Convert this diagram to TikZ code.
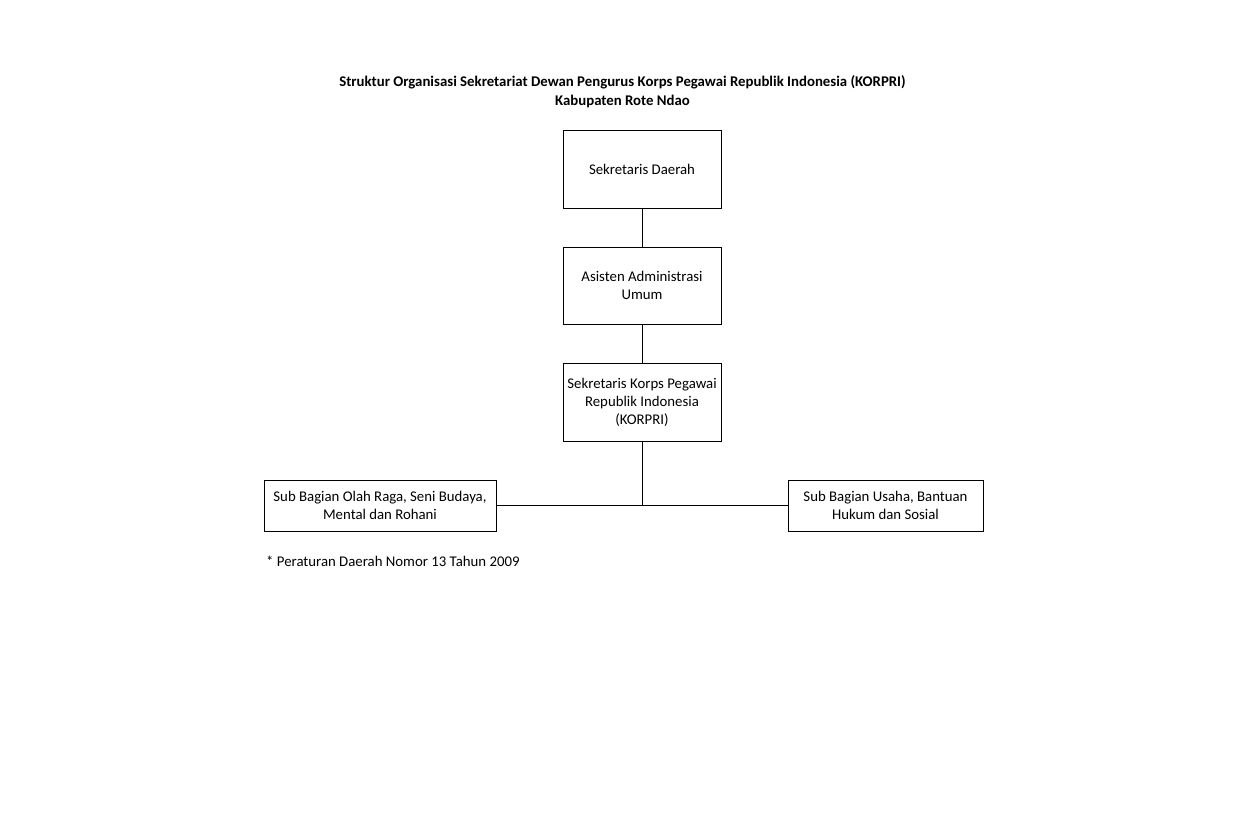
\documentclass[tikz,border=0pt]{standalone}
\usepackage{fontspec}
\setmainfont{Carlito}
\begin{document}
\begin{tikzpicture}[x=1pt,y=-1pt,
  box/.style={draw,line width=0.8pt,inner sep=0pt,align=center,font=\fontsize{14.8}{18}\selectfont},
  conn/.style={line width=0.8pt}]
\useasboundingbox (0,0) rectangle (1248,816);
\node[font=\bfseries\fontsize{14.8}{19}\selectfont,align=center] (title) at (622.5,92)
  {Struktur Organisasi Sekretariat Dewan Pengurus Korps Pegawai Republik Indonesia (KORPRI)\\Kabupaten Rote Ndao};
\node[box,minimum width=158pt,minimum height=78pt] (sd) at (642,169) {Sekretaris Daerah};
\node[box,minimum width=158pt,minimum height=77pt] (aa) at (642,285.5) {Asisten Administrasi\\Umum};
\node[box,minimum width=158pt,minimum height=78pt] (sk) at (642,402) {Sekretaris Korps Pegawai\\Republik Indonesia\\(KORPRI)};
\node[box,minimum width=232pt,minimum height=51pt] (l) at (380,505.5) {Sub Bagian Olah Raga, Seni Budaya,\\Mental dan Rohani};
\node[box,minimum width=195pt,minimum height=51pt] (r) at (885.5,505.5) {Sub Bagian Usaha, Bantuan\\Hukum dan Sosial};
\coordinate (j) at (642,505.5);
\draw[conn] (sd) -- (aa);
\draw[conn] (aa) -- (sk);
\draw[conn] (sk) -- (j);
\draw[conn] (l.east) -- (r.west);
\node[anchor=west,font=\fontsize{14.8}{18}\selectfont,inner sep=0pt] (fn) at (266,561) {* Peraturan Daerah Nomor 13 Tahun 2009};
\end{tikzpicture}
\end{document}
